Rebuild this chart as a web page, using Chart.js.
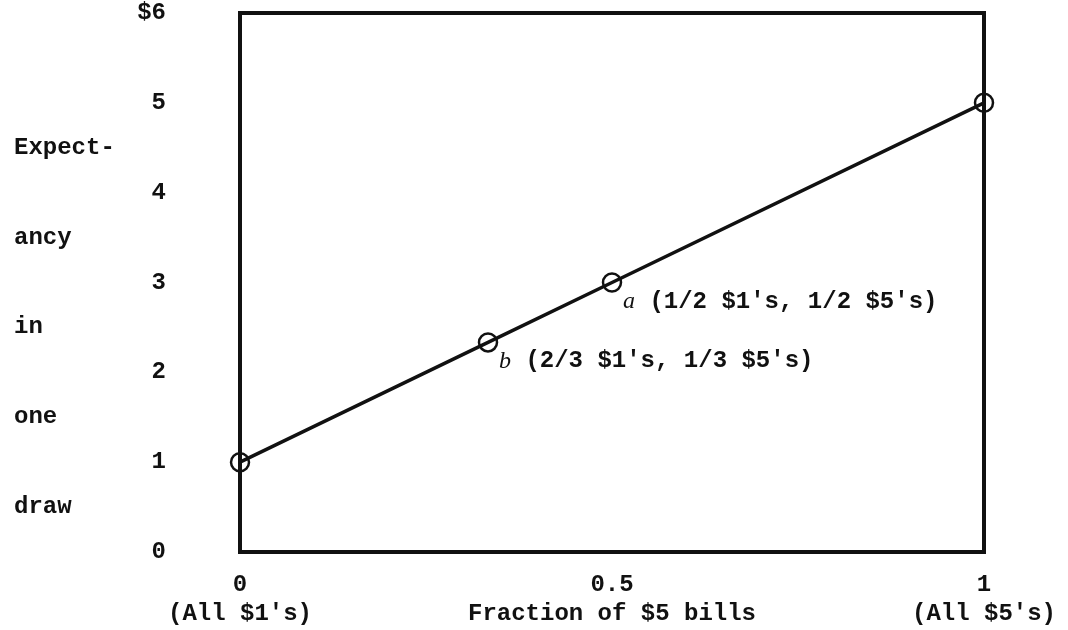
<!DOCTYPE html>
<html>
<head>
<meta charset="utf-8">
<script src="https://cdn.jsdelivr.net/npm/chart.js@4/dist/chart.umd.min.js"></script>
<style>
  html, body { margin: 0; padding: 0; background: #fff; }
  #wrap { width: 1068px; height: 630px; }
</style>
</head>
<body>
<div id="wrap"><canvas id="grafica"></canvas></div>
<script>
// Expectancy in one draw vs fraction of $5 bills
const fraccion = [0, 1/3, 0.5, 1];
const esperanza = [1, 7/3, 3, 5];
const etiquetasPuntos = ["", "b", "a", ""];
const textosPuntos = ["", " (2/3 $1's, 1/3 $5's)", " (1/2 $1's, 1/2 $5's)", ""];

const xTicks = [0, 0.5, 1];
const xTickLabels = [["0", "(All $1's)"], ["0.5", "Fraction of $5 bills"], ["1", "(All $5's)"]];
const yTicks = [0, 1, 2, 3, 4, 5, 6];
const yTickLabels = ["0", "1", "2", "3", "4", "5", "$6"];
const yTitleWords = ["Expect-", "ancy", "in", "one", "draw"];
const yTitleAt = [4.5, 3.5, 2.5, 1.5, 0.5];

const FUENTE = "'Liberation Mono', monospace";
const TINTA = '#111';

// box around plot, y title words, point annotations
const extras = {
    id: 'extras',
    beforeDatasetsDraw(chart) {
        const { ctx, chartArea: a } = chart;
        ctx.save();
        ctx.strokeStyle = TINTA;
        ctx.lineWidth = 4;
        ctx.strokeRect(a.left, a.top, a.right - a.left, a.bottom - a.top);
        ctx.restore();
    },
    afterDatasetsDraw(chart) {
        const { ctx } = chart;
        const y = chart.scales.y;
        const x = chart.scales.x;
        ctx.save();
        ctx.fillStyle = TINTA;
        ctx.textBaseline = 'middle';
        ctx.textAlign = 'left';
        ctx.font = 'bold 24px ' + FUENTE;
        yTitleWords.forEach((w, i) => {
            ctx.fillText(w, 14, y.getPixelForValue(yTitleAt[i]));
        });
        // labels next to points a and b
        fraccion.forEach((f, i) => {
            if (!etiquetasPuntos[i]) return;
            const px = x.getPixelForValue(f) + 11;
            const py = y.getPixelForValue(esperanza[i]) + 19;
            ctx.font = 'italic 24px "Liberation Serif", serif';
            ctx.fillText(etiquetasPuntos[i], px, py);
            const w = ctx.measureText(etiquetasPuntos[i]).width;
            ctx.font = 'bold 24px ' + FUENTE;
            ctx.fillText(textosPuntos[i], px + w, py);
        });
        ctx.restore();
    }
};

new Chart(document.getElementById('grafica'), {
    type: 'scatter',
    data: {
        datasets: [{
            label: 'Expectancy',
            data: fraccion.map((f, i) => ({ x: f, y: esperanza[i] })),
            showLine: true,
            borderColor: TINTA,
            borderWidth: 3.5,
            pointRadius: 9,
            pointBorderWidth: 2.5,
            pointBorderColor: TINTA,
            pointBackgroundColor: 'rgba(0,0,0,0)',
            clip: false
        }]
    },
    options: {
        responsive: true,
        maintainAspectRatio: false,
        animation: false,
        layout: { autoPadding: false, padding: { top: 13, right: 84, left: 0, bottom: 0 } },
        plugins: {
            legend: { display: false },
            tooltip: { enabled: false }
        },
        scales: {
            x: {
                type: 'linear',
                min: 0,
                max: 1,
                afterBuildTicks: s => { s.ticks = xTicks.map(v => ({ value: v })); },
                afterFit: s => { s.height = 78; s.paddingLeft = 0; s.paddingRight = 0; },
                grid: { display: false, drawTicks: false },
                border: { display: false },
                ticks: {
                    color: TINTA,
                    padding: 19,
                    maxRotation: 0,
                    autoSkip: false,
                    font: { family: FUENTE, size: 24, weight: 'bold', lineHeight: 1.2 },
                    callback: v => xTickLabels[xTicks.indexOf(v)]
                }
            },
            y: {
                type: 'linear',
                min: 0,
                max: 6,
                afterBuildTicks: s => { s.ticks = yTicks.map(v => ({ value: v })); },
                afterFit: s => { s.width = 240; s.paddingTop = 0; s.paddingBottom = 0; },
                grid: { display: false, drawTicks: false },
                border: { display: false },
                ticks: {
                    color: TINTA,
                    padding: 74,
                    autoSkip: false,
                    font: { family: FUENTE, size: 24, weight: 'bold' },
                    callback: v => yTickLabels[yTicks.indexOf(v)]
                }
            }
        }
    },
    plugins: [extras]
});
</script>
</body>
</html>
